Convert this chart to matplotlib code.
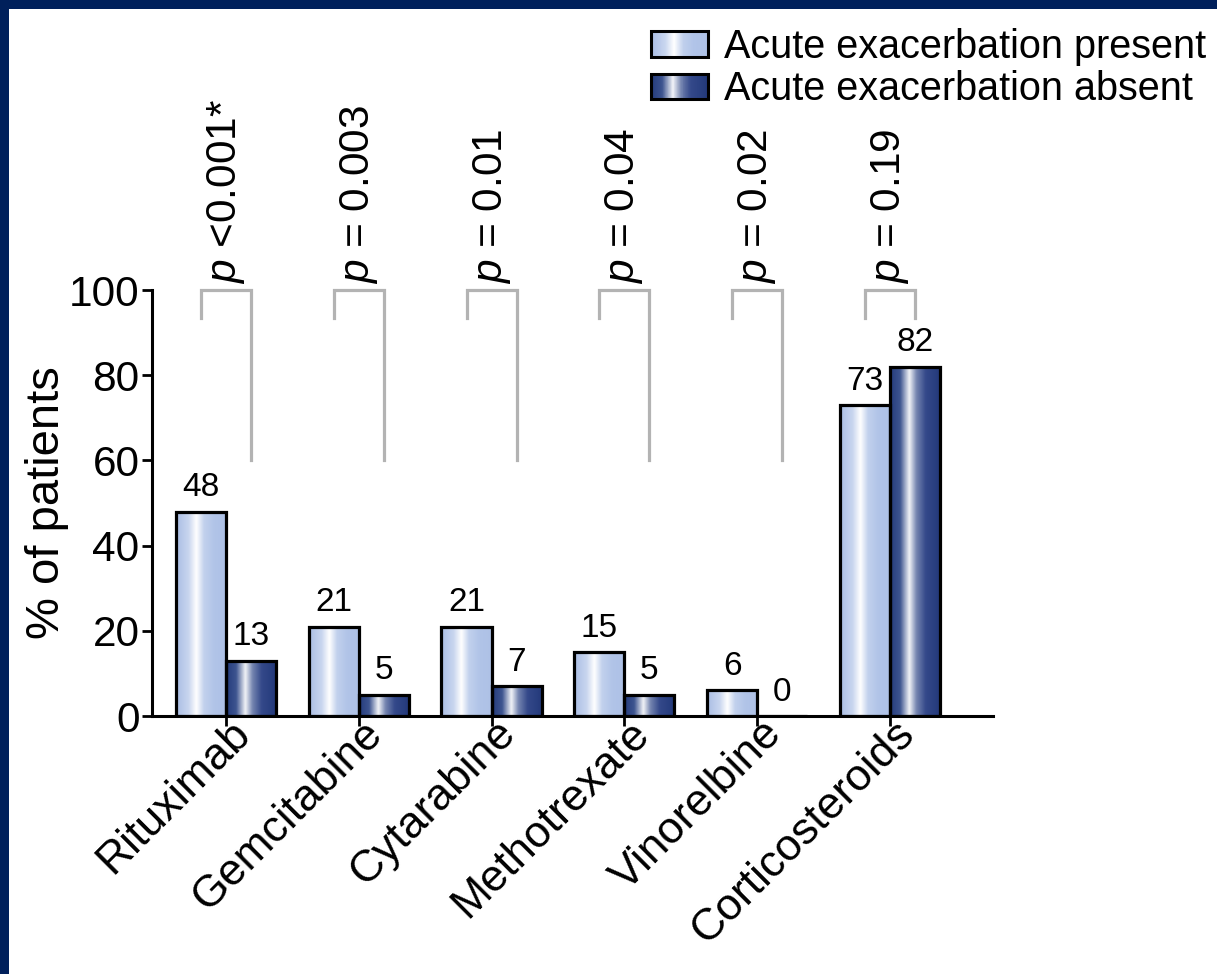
import numpy as np
import matplotlib
matplotlib.use("Agg")
import matplotlib.pyplot as plt
from matplotlib.colors import LinearSegmentedColormap
from matplotlib.patches import Rectangle
from matplotlib.legend_handler import HandlerBase
from matplotlib.transforms import ScaledTranslation

plt.rcParams['font.family'] = ['Liberation Sans', 'DejaVu Sans']
plt.rcParams['mathtext.fontset'] = 'custom'
plt.rcParams['mathtext.rm'] = 'Liberation Sans'
plt.rcParams['mathtext.it'] = 'Liberation Sans:italic'

# data
drugs = ["Rituximab", "Gemcitabine", "Cytarabine", "Methotrexate", "Vinorelbine", "Corticosteroids"]
present = [48, 21, 21, 15, 6, 73]
absent = [13, 5, 7, 5, 0, 82]
p_labels = [r"$\it{p}$ <0.001*", r"$\it{p}$ = 0.003", r"$\it{p}$ = 0.01",
            r"$\it{p}$ = 0.04", r"$\it{p}$ = 0.02", r"$\it{p}$ = 0.19"]
bracket_left_low = [93.5, 93.5, 93.5, 93.5, 93.5, 93.5]
bracket_right_low = [60, 60, 60, 60, 60, 93.5]
series_names = ["Acute exacerbation present", "Acute exacerbation absent"]

# shiny cylinder-like gradients
light_cmap = LinearSegmentedColormap.from_list(
    "light", [(0, "#A9BDE4"), (0.25, "#C9D6EF"), (0.40, "#FFFFFF"),
              (0.55, "#C2D1ED"), (0.75, "#B1C4E8"), (1, "#AEC1E6")])
dark_cmap = LinearSegmentedColormap.from_list(
    "dark", [(0, "#243B7C"), (0.2, "#3E5590"), (0.38, "#F2F4F8"),
             (0.52, "#7585B0"), (0.7, "#34498A"), (1, "#223879")])

W, H = 1217, 974
fig = plt.figure(figsize=(W / 100, H / 100), dpi=100, facecolor="white")

# navy frame strips on top and left
fig.patches.append(Rectangle((0, 1 - 9 / H), 1, 9 / H, transform=fig.transFigure,
                             facecolor="#00205B", edgecolor="none", zorder=0))
fig.patches.append(Rectangle((0, 0), 9 / W, 1, transform=fig.transFigure,
                             facecolor="#00205B", edgecolor="none", zorder=0))

ax = fig.add_axes([152 / W, (H - 716) / H, (993 - 152) / W, (716 - 290) / H])

x = np.arange(len(drugs))
w = 0.377
grad = np.linspace(0, 1, 256).reshape(1, -1)


def shiny_bars(xpos, vals, cmap):
    bars = ax.bar(xpos, vals, width=w, facecolor="none", edgecolor="black",
                  linewidth=2.3, zorder=3)
    for b in bars:
        x0, y0 = b.get_x(), b.get_y()
        h = b.get_height()
        if h <= 0:
            continue
        im = ax.imshow(grad, cmap=cmap, aspect="auto", extent=(x0, x0 + w, y0, y0 + h),
                       zorder=2, interpolation="bicubic")
        im.set_clip_path(b)
    return bars


b1 = shiny_bars(x - w / 2, present, light_cmap)
b2 = shiny_bars(x + w / 2, absent, dark_cmap)

for bars, vals in ((b1, present), (b2, absent)):
    for b, v in zip(bars, vals):
        ax.annotate(f"{v}", (b.get_x() + b.get_width() / 2, v), xytext=(0, 6),
                    textcoords="offset points", ha="center", va="bottom", fontsize=24)

# significance brackets and p values
for i in range(len(drugs)):
    xl, xr = x[i] - w / 2, x[i] + w / 2
    ax.plot([xl, xl, xr, xr], [bracket_left_low[i], 100, 100, bracket_right_low[i]],
            color="#B3B3B3", linewidth=2.3, clip_on=False, zorder=1,
            solid_joinstyle="miter")
    ax.text(x[i], 101.5, p_labels[i], rotation=90, ha="center", va="bottom", fontsize=30.5)

ax.set_xlim(-0.557, 5.776)
ax.set_ylim(0, 100)
ax.set_yticks([0, 20, 40, 60, 80, 100])
ax.set_xticks(x)
ax.set_xticklabels(drugs, rotation=45, ha="right", va="center", rotation_mode="anchor",
                   fontsize=32)
ax.tick_params(axis="y", labelsize=30.5, width=2, length=7, pad=2)
ax.tick_params(axis="x", width=2, length=7, pad=8)
for lbl in ax.get_xticklabels():
    lbl.set_transform(lbl.get_transform() + ScaledTranslation(0.18, 0.10, fig.dpi_scale_trans))
ax.set_ylabel("% of patients", fontsize=34)
ax.yaxis.set_label_coords(-0.099, 0.5)

for s in ("top", "right"):
    ax.spines[s].set_visible(False)
for s in ("left", "bottom"):
    ax.spines[s].set_linewidth(2.2)


class GradientHandler(HandlerBase):
    def __init__(self, cmap):
        super().__init__()
        self.cmap = cmap

    def create_artists(self, legend, orig_handle, xdescent, ydescent, width, height,
                       fontsize, trans):
        n = 60
        arts = []
        for k in range(n):
            arts.append(Rectangle((-xdescent + width * k / n, -ydescent), width / n + 0.3,
                                  height, facecolor=self.cmap(k / (n - 1)),
                                  edgecolor="none", transform=trans))
        arts.append(Rectangle((-xdescent, -ydescent), width, height, facecolor="none",
                              edgecolor="black", linewidth=2.2, transform=trans))
        return arts


h1 = Rectangle((0, 0), 1, 1)
h2 = Rectangle((0, 0), 1, 1)
fig.legend([h1, h2], series_names, loc="upper right", bbox_to_anchor=(1.014, 1.0),
           frameon=False, fontsize=28.5, handlelength=1.45, handleheight=0.62,
           handletextpad=0.4, labelspacing=0.12, borderpad=0.2,
           handler_map={h1: GradientHandler(light_cmap), h2: GradientHandler(dark_cmap)})

fig.savefig("out.png", dpi=100, facecolor="white")
